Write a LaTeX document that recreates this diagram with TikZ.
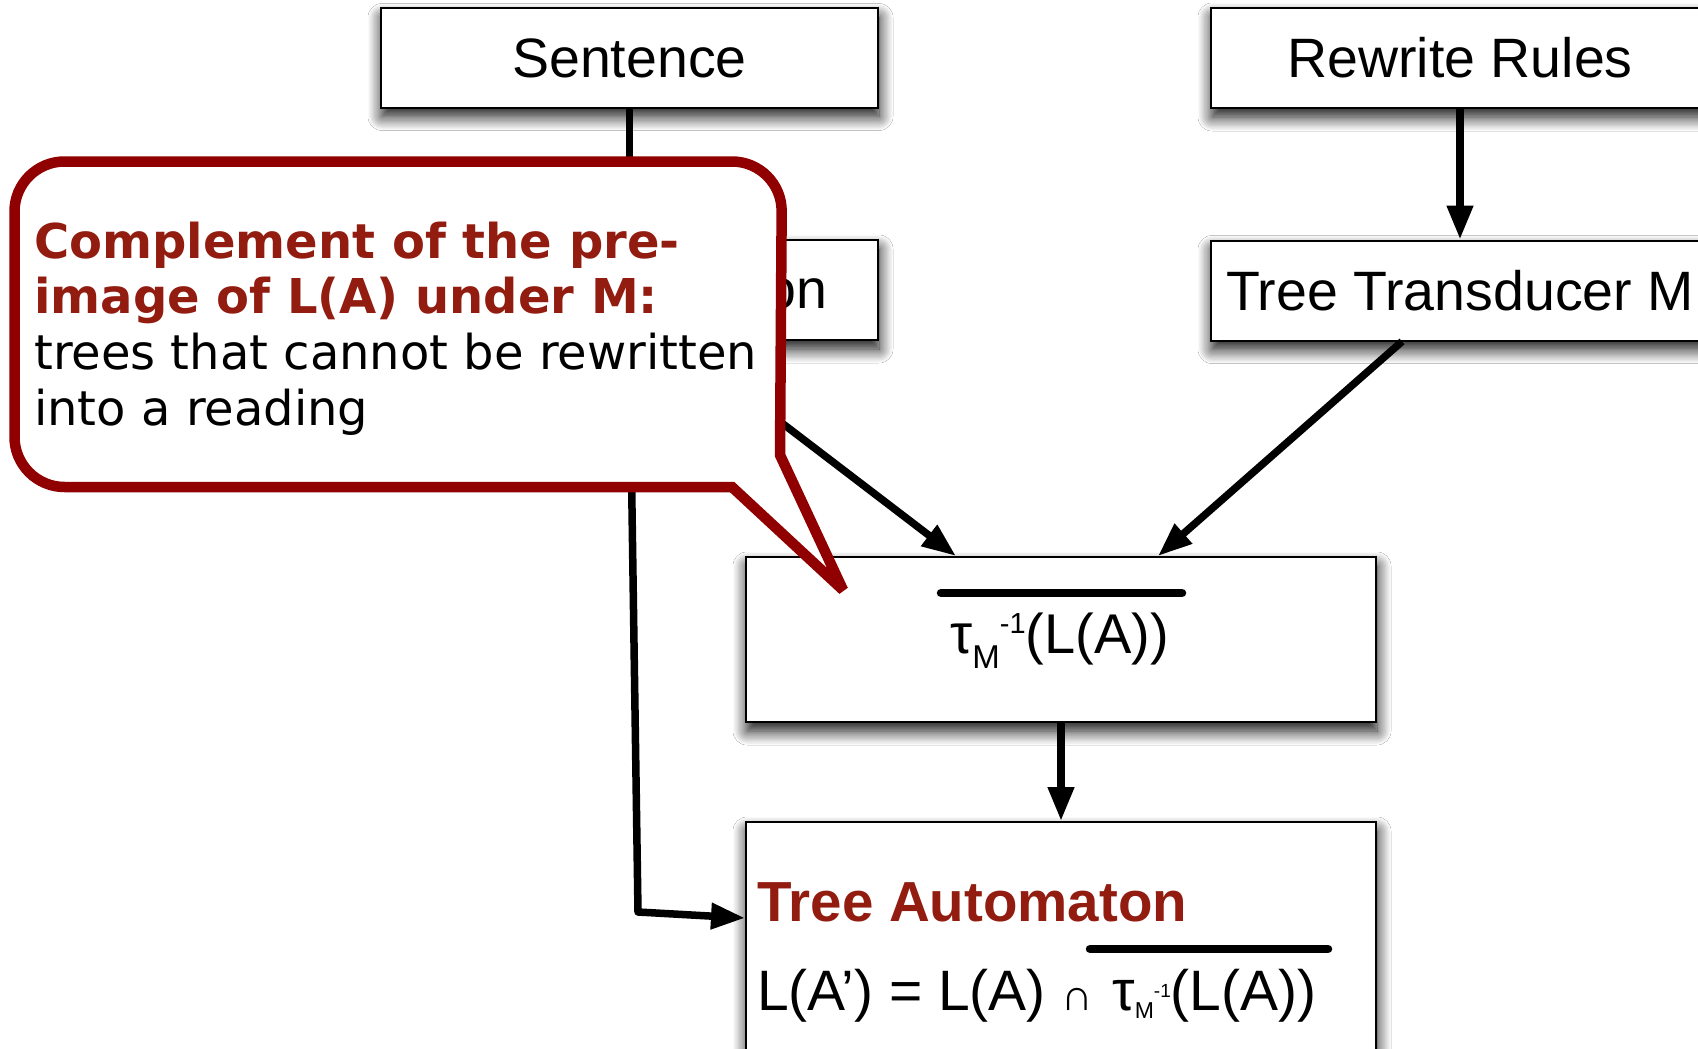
\documentclass[tikz,border=0pt]{standalone}
\usepackage{fontspec}
\setmainfont{Liberation Sans}
\newfontfamily\calfont{DejaVu Sans}
\usetikzlibrary{arrows.meta,shadows.blur,calc}
\definecolor{txtred}{RGB}{146,28,16}
\definecolor{callred}{RGB}{144,0,0}
\begin{document}
\begin{tikzpicture}[x=1pt,y=-1pt,
  box/.style={draw=black,line width=2pt,fill=white,inner sep=0pt,
    blur shadow={shadow xshift=1pt,shadow yshift=-9pt,shadow blur radius=14pt,shadow blur steps=12,shadow opacity=95}},
  boxtext/.style={font=\fontsize{55.5}{66}\selectfont},
  arr/.style={line width=7.5pt,line join=round,-{Triangle[length=34pt,width=25pt]}},
  bar/.style={line width=8.5pt,line cap=round},
  lbl/.style={inner sep=0pt,anchor=base west},
  callout/.style={draw=callred,line width=10.5pt,fill=white,miter limit=2},
  calbold/.style={lbl,text=txtred,font=\calfont\bfseries\fontsize{48}{56}\selectfont},
  calreg/.style={lbl,text=black,font=\calfont\fontsize{48}{56}\selectfont}
]
\useasboundingbox (0,0) rectangle (1698,1049);
\fill[white] (0,0) rectangle (1698,1049);

% boxes
\node[box,boxtext,minimum width=497pt,minimum height=99pt] (sentence) at (629.5,58) {Sentence};
\node[box,boxtext,minimum width=497pt,minimum height=100pt] (ta1) at (629.5,290) {Tree Automaton};
\node[box,boxtext,minimum width=498pt,minimum height=100pt] (rewrite) at (1460,58) {Rewrite Rules};
\node[box,boxtext,minimum width=498pt,minimum height=100pt] (trans) at (1460,290.5) {Tree Transducer M};
\node[box,minimum width=630pt,minimum height=165pt] (tau) at (1061,639.5) {};
\node[box,minimum width=630pt,minimum height=278pt] (auto) at (1061,961) {};

% text in tau box
\node[inner sep=0pt,anchor=base] (f1) at (1059.5,653)
  {\fontsize{56}{66}\selectfont τ\raisebox{-15pt}{\fontsize{33}{40}\selectfont M}\raisebox{20pt}{\fontsize{29}{34}\selectfont -1}(L(A))};
\draw[bar] (941,593) -- (1182,593);

% text in automaton box
\node[lbl,text=txtred,font=\bfseries\fontsize{56.5}{66}\selectfont] (autotitle) at (757,921) {Tree Automaton};
\node[lbl] (f2) at (757,1010)
  {\fontsize{57}{66}\selectfont L(A’) = L(A) {\fontsize{44}{50}\selectfont ∩}\hspace{3pt} τ\raisebox{-8pt}{\fontsize{23}{26}\selectfont M}\raisebox{13pt}{\fontsize{19}{22}\selectfont -1}(L(A))};
\draw[bar] (1090,949) -- (1328,949);

% connectors
\draw[arr] (sentence) -- (ta1);
\draw[arr] (rewrite) -- (trans);
\coordinate (bend) at (638,912);
\draw[arr] (ta1.south) -- (bend) -- ($(auto.north west)+(0,97)$);
\draw[arr] ($(ta1.south)+(45,0)$) -- ($(tau.north west)+(211,0)$);
\draw[arr] ($(trans.south)+(-58,0)$) -- ($(tau.north west)+(413,0)$);
\draw[arr] (tau) -- (auto);

% callout
\draw[callout] (300,487) [rounded corners=50pt] -- (14.5,487) -- (14.5,161.5) -- (782,161.5) [sharp corners] -- (780,455) -- (843,590) -- (732,487) -- cycle;
\node[calbold] (c1) at (34,258) {Complement of the pre-};
\node[calbold] (c2) at (34,313) {image of L(A) under M:};
\node[calreg] (c3) at (34,369) {trees that cannot be rewritten};
\node[calreg] (c4) at (34,425) {into a reading};
\end{tikzpicture}
\end{document}
